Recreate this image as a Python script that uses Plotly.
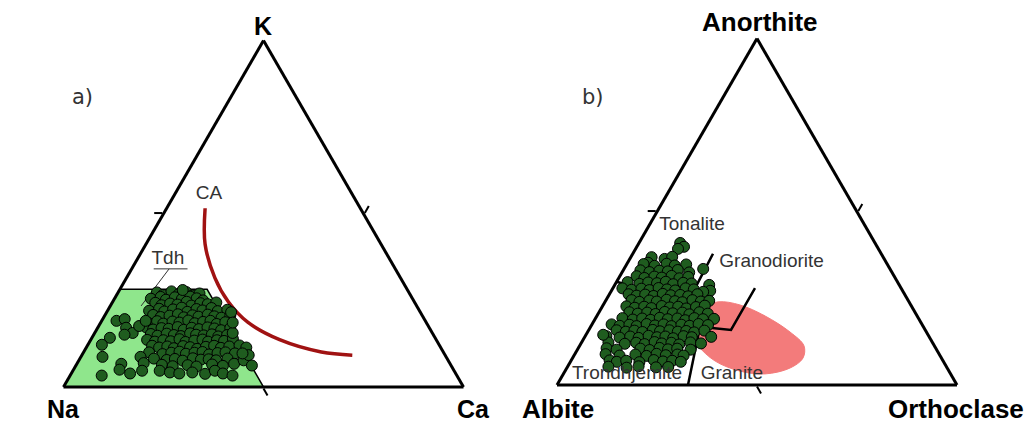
import plotly.graph_objects as go

# ---------------- Panel a: K - Na - Ca (values in %, Na = 100 - K - Ca) ----------------
# Trondhjemite (Tdh) field
tdh_field_k = [0, 28.2, 28.2, 0, 0]
tdh_field_ca = [0, 0, 21.8, 50, 0]

# Calc-alkaline (CA) trend
ca_trend_k = [51.6, 41.2, 31.5, 24.6, 18.7, 13.65, 10.1, 9.2]
ca_trend_ca = [9.6, 14.8, 22.1, 28.9, 36.7, 47.2, 59.4, 67.6]

# Tdh label underline and leader
tdh_underline_k = [34.1, 34.1]
tdh_underline_ca = [5.5, 13.95]
tdh_leader_k = [34.1, 23.4]
tdh_leader_ca = [9.35, 7.7]

# Samples (K %, Ca %)
samples_a = [
    (27.3, 9.7), (26.5, 11.5), (27.6, 13.2), (26.8, 15.4), (27.4, 17.0), (26.4, 19.0), (27.0, 20.5),
    (25.5, 9.1), (26.0, 11.3), (25.2, 13.0), (25.9, 14.9), (25.4, 16.9), (26.1, 18.6), (25.6, 20.5), (25.0, 22.4),
    (24.3, 10.8), (23.6, 12.7), (24.1, 14.6), (23.8, 16.6), (24.6, 18.5), (23.5, 20.2), (24.2, 22.1), (23.9, 24.1),
    (24.4, 26.0),
    (22.0, 10.4), (22.6, 12.6), (21.8, 14.3), (22.4, 16.2), (22.9, 18.1), (21.7, 20.1), (22.5, 22.0), (22.1, 23.7),
    (22.8, 25.6), (21.9, 27.6), (22.3, 29.8),
    (20.8, 12.0), (20.2, 14.2), (20.6, 16.2), (21.0, 18.1), (20.1, 20.0), (20.7, 21.9), (20.3, 23.6), (20.9, 25.6),
    (20.4, 27.5), (20.0, 29.5), (20.6, 31.4),
    (18.5, 11.9), (19.0, 13.9), (18.3, 15.8), (18.9, 17.8), (18.6, 19.7), (19.2, 21.6), (18.4, 23.6), (18.8, 25.5),
    (19.1, 27.2), (18.2, 29.2), (18.7, 31.1),
    (17.2, 12.1), (16.6, 14.1), (17.0, 16.0), (16.8, 17.9), (17.3, 19.9), (16.5, 21.8), (17.1, 23.5), (16.7, 25.5),
    (17.2, 27.4), (16.9, 29.3), (16.4, 31.2), (17.0, 33.2),
    (15.3, 14.2), (14.8, 16.1), (15.4, 18.1), (15.0, 20.1), (14.7, 22.0), (15.5, 23.9), (15.1, 25.6), (14.9, 27.6),
    (15.2, 29.5), (14.6, 31.4), (15.0, 33.4),
    (13.6, 14.1), (13.1, 16.3), (13.5, 18.2), (13.2, 20.2), (13.8, 22.1), (13.0, 24.0), (13.4, 26.0), (13.7, 27.9),
    (13.1, 29.6), (13.5, 31.6), (13.3, 33.5), (13.9, 35.4),
    (11.9, 16.2), (11.4, 18.2), (11.7, 20.1), (11.2, 22.0), (11.8, 24.0), (11.5, 25.9), (11.0, 27.9), (11.6, 29.8),
    (11.9, 31.7), (11.3, 33.7), (11.7, 35.6), (12.0, 38.0), (11.4, 40.0),
    (10.0, 16.4), (9.5, 20.0), (9.9, 22.0), (10.2, 23.9), (9.6, 25.8), (9.9, 27.8), (10.1, 29.7), (9.4, 31.7),
    (9.8, 33.6), (10.0, 35.5), (9.7, 38.0),
    (8.2, 18.5), (7.8, 21.9), (8.1, 23.8), (7.6, 26.0), (8.3, 28.2), (7.9, 30.4), (8.0, 32.3), (7.7, 34.3), (8.2, 36.9),
    (6.4, 21.4), (6.0, 24.3), (6.3, 27.9), (5.9, 30.3), (6.5, 33.9), (6.1, 36.8),
    (19.1, 3.7), (19.6, 5.5), (17.1, 7.1), (15.6, 9.5), (15.1, 7.7), (14.2, 4.5), (12.2, 3.5), (8.7, 5.4),
    (3.3, 7.9), (6.7, 11.1), (5.0, 11.5), (3.9, 14.7), (8.7, 14.9), (6.9, 16.6), (4.7, 17.3), (17.6, 10.1),
    (19.1, 11.0), (4.7, 21.7), (4.2, 24.5), (3.9, 27.0), (4.2, 30.1), (3.8, 33.5), (4.7, 35.5), (3.9, 37.9),
    (3.3, 40.6), (6.7, 39.3), (7.7, 41.2), (9.2, 41.7), (6.2, 44.0), (9.7, 39.9), (15.6, 34.5), (21.6, 31.1),
    (18.6, 33.0), (28.0, 15.8),
]

# ---------------- Panel b: An - Ab - Or (values in %, Ab = 100 - An - Or) ----------------
# Granite field of comparison
granite_field_an = [18.2, 22.0, 24.0, 23.1, 19.9, 15.3, 11.3, 7.8, 4.9, 3.2, 4.0, 6.9, 11.6, 15.0, 18.2]
granite_field_or = [24.2, 24.8, 28.3, 34.2, 42.1, 50.6, 56.1, 57.6, 55.8, 50.4, 43.8, 36.1, 29.2, 25.5, 24.2]

# Classification boundaries
bound_tonalite_an = [29.8, 24.0]
bound_tonalite_or = [0.0, 20.75]
bound_granodiorite_an = [37.9, 24.0, 16.8]
bound_granodiorite_or = [20.05, 20.75, 27.35]
bound_granite_an = [16.8, 0.0]
bound_granite_or = [27.35, 32.75]
bound_gd_granite_an = [16.8, 15.9, 28.0]
bound_gd_granite_or = [27.35, 35.55, 35.5]

# Samples (An %, Or %)
samples_b = [
    (41.0, 10.3), (39.9, 11.8), (39.3, 10.6), (33.5, 19.8), (28.9, 23.6), (27.2, 24.7),
    (36.9, 5.2), (36.4, 8.7), (37.0, 10.3), (35.3, 5.1),
    (34.9, 4.2), (34.4, 7.2), (35.0, 9.9), (34.5, 12.2), (34.8, 14.9),
    (33.1, 4.3), (32.6, 6.8), (33.0, 9.1), (32.8, 11.3), (33.2, 13.6), (32.5, 16.8),
    (31.4, 4.2), (30.9, 6.4), (31.3, 8.7), (31.0, 10.7), (31.5, 12.9), (30.8, 15.2), (31.2, 17.2),
    (29.7, 2.8), (29.2, 6.0), (29.6, 8.0), (29.4, 10.3), (29.8, 12.3), (29.1, 14.5), (29.5, 16.8), (29.3, 19.0),
    (27.9, 2.4), (27.5, 4.9), (27.8, 7.2), (27.4, 9.4), (28.0, 11.4), (27.6, 13.7), (27.3, 15.9), (27.9, 18.2),
    (27.6, 20.4), (26.9, 23.1),
    (26.2, 4.8), (25.8, 7.0), (26.1, 9.0), (25.7, 11.3), (26.3, 13.3), (25.9, 15.5), (26.0, 17.8), (25.6, 20.0),
    (26.2, 22.0),
    (24.5, 6.4), (24.0, 8.6), (24.4, 10.9), (24.1, 12.9), (24.6, 15.1), (24.2, 17.4), (23.9, 19.4), (24.5, 21.6),
    (24.1, 23.9), (24.3, 25.9),
    (22.7, 6.0), (22.3, 8.3), (22.6, 10.5), (22.2, 12.5), (22.8, 14.8), (22.4, 17.0), (22.6, 19.0), (22.1, 21.3),
    (22.5, 23.5), (22.9, 25.5),
    (21.0, 7.6), (20.6, 9.9), (20.9, 12.1), (20.5, 14.4), (21.1, 16.4), (20.7, 18.6), (20.9, 20.9), (20.4, 22.9),
    (21.0, 25.1), (20.6, 27.4),
    (19.3, 6.7), (18.9, 9.5), (19.2, 11.7), (18.8, 14.0), (19.4, 16.0), (19.0, 18.2), (19.2, 20.5), (18.7, 22.7),
    (19.3, 24.7), (19.0, 27.0), (19.1, 29.7),
    (17.5, 4.9), (17.1, 7.1), (17.4, 9.4), (17.0, 11.4), (17.6, 13.6), (17.2, 15.9), (17.5, 17.9), (17.0, 20.1),
    (17.4, 22.4), (17.1, 24.6), (17.6, 26.6), (17.3, 29.1),
    (15.8, 7.0), (15.4, 9.5), (15.7, 11.5), (15.3, 13.7), (15.9, 16.0), (15.5, 18.0), (15.8, 20.2), (15.4, 22.5),
    (15.6, 24.5), (15.2, 26.7), (15.7, 29.0),
    (14.1, 5.3), (13.7, 8.8), (14.0, 11.3), (13.6, 13.6), (14.2, 15.8), (13.8, 18.1), (14.0, 20.1), (13.5, 22.3),
    (14.1, 24.6), (13.8, 26.8), (13.9, 31.6),
    (12.3, 6.7), (11.9, 11.0), (12.2, 13.7), (11.8, 16.0), (12.4, 18.2), (12.0, 20.2), (12.2, 22.5), (11.7, 24.7),
    (12.3, 27.2), (12.0, 30.0),
    (10.6, 7.1), (10.2, 9.8), (10.5, 15.6), (10.1, 18.1), (10.7, 20.3), (10.3, 22.6), (10.5, 24.8), (10.2, 28.3),
    (8.9, 7.7), (8.5, 11.4), (8.8, 15.2), (8.4, 18.2), (9.0, 20.4), (8.6, 22.9), (8.8, 25.7), (8.5, 27.4),
    (7.1, 9.6), (6.7, 11.6), (7.0, 13.8), (6.6, 17.3), (7.2, 20.6), (6.8, 23.1), (7.0, 25.3), (6.7, 27.6),
    (5.3, 10.2), (5.0, 14.9), (5.4, 17.7), (5.1, 22.2), (5.2, 25.2),
    (14.5, 4.3),
]

# Field labels: (text, top %, right %)
labels_a = [("Tdh", 36.8, 7.7), ("CA", 55.5, 8.6)]
labels_b = [("Tonalite", 46.0, 10.75), ("Granodiorite", 35.5, 35.9),
            ("Trondhjemite", 3.2, 15.9), ("Granite", 3.2, 42.1)]

TEXT_FONT = "Liberation Sans, Arial, sans-serif"
POINT_FILL = "#1f5c1f"


def rest(top, right):
    return [100 - t - r for t, r in zip(top, right)]


fig = go.Figure()

# ---- panel a traces ----
fig.add_trace(go.Scatterternary(
    a=tdh_field_k, b=rest(tdh_field_k, tdh_field_ca), c=tdh_field_ca,
    mode="lines", fill="toself", fillcolor="#8fe68c",
    line=dict(color="black", width=1.5), subplot="ternary", hoverinfo="skip"))
fig.add_trace(go.Scatterternary(
    a=ca_trend_k, b=rest(ca_trend_k, ca_trend_ca), c=ca_trend_ca,
    mode="lines", line=dict(color="#a01212", width=3.5, shape="spline"),
    subplot="ternary", hoverinfo="skip"))
for kk, cc in [(tdh_underline_k, tdh_underline_ca), (tdh_leader_k, tdh_leader_ca)]:
    fig.add_trace(go.Scatterternary(
        a=kk, b=rest(kk, cc), c=cc, mode="lines",
        line=dict(color="#333333", width=1), subplot="ternary", hoverinfo="skip"))
ka = [p[0] for p in samples_a]
ca = [p[1] for p in samples_a]
fig.add_trace(go.Scatterternary(
    a=ka, b=rest(ka, ca), c=ca, mode="markers", cliponaxis=False,
    marker=dict(size=11, color=POINT_FILL, line=dict(color="black", width=1)),
    subplot="ternary"))
fig.add_trace(go.Scatterternary(
    a=[l[1] for l in labels_a], b=rest([l[1] for l in labels_a], [l[2] for l in labels_a]),
    c=[l[2] for l in labels_a], text=[l[0] for l in labels_a], mode="text", cliponaxis=False,
    textfont=dict(family=TEXT_FONT, size=19, color="#333333"), subplot="ternary"))

# ---- panel b traces ----
fig.add_trace(go.Scatterternary(
    a=granite_field_an, b=rest(granite_field_an, granite_field_or), c=granite_field_or,
    mode="lines", fill="toself", fillcolor="#f37b7b",
    line=dict(color="#f37b7b", width=1, shape="spline"), subplot="ternary2", hoverinfo="skip"))
for aa, cc in [(bound_tonalite_an, bound_tonalite_or), (bound_granodiorite_an, bound_granodiorite_or),
               (bound_granite_an, bound_granite_or), (bound_gd_granite_an, bound_gd_granite_or)]:
    fig.add_trace(go.Scatterternary(
        a=aa, b=rest(aa, cc), c=cc, mode="lines",
        line=dict(color="black", width=2.5), subplot="ternary2", hoverinfo="skip"))
an = [p[0] for p in samples_b]
orr = [p[1] for p in samples_b]
fig.add_trace(go.Scatterternary(
    a=an, b=rest(an, orr), c=orr, mode="markers", cliponaxis=False,
    marker=dict(size=11, color=POINT_FILL, line=dict(color="black", width=1)),
    subplot="ternary2"))
fig.add_trace(go.Scatterternary(
    a=[l[1] for l in labels_b], b=rest([l[1] for l in labels_b], [l[2] for l in labels_b]),
    c=[l[2] for l in labels_b], text=[l[0] for l in labels_b], mode="text", cliponaxis=False,
    textfont=dict(family=TEXT_FONT, size=19, color="#333333"), subplot="ternary2"))


def tern_axis():
    return dict(title=dict(text=""), min=0, showgrid=False, showline=True,
                linecolor="black", linewidth=3, ticks="outside", tickvals=[50],
                ticklen=8, tickwidth=1.5, tickcolor="black", showticklabels=False)


W, H = 1029, 423
ternary_common = dict(sum=100, bgcolor="white",
                      aaxis=tern_axis(), baxis=tern_axis(), caxis=tern_axis())

fig.update_layout(
    width=W, height=H, autosize=False,
    margin=dict(l=0, r=0, t=0, b=0),
    paper_bgcolor="white", plot_bgcolor="white", showlegend=False,
    ternary=dict(domain=dict(x=[63.5 / W, 463.5 / W], y=[36 / H, (36 + 346.41) / H]), **ternary_common),
    ternary2=dict(domain=dict(x=[557 / W, 957 / W], y=[38 / H, (38 + 346.41) / H]), **ternary_common),
)

annots = [
    ("<b>K</b>", 263, 26, 25), ("<b>Na</b>", 63, 409, 25), ("<b>Ca</b>", 473, 409, 25),
    ("<b>Anorthite</b>", 760, 22, 26), ("<b>Albite</b>", 558, 409, 26), ("<b>Orthoclase</b>", 956, 409, 26),
]
for txt, px, py, fs in annots:
    fig.add_annotation(text=txt, x=px / W, y=1 - py / H, xref="paper", yref="paper",
                       xanchor="center", yanchor="middle", showarrow=False,
                       font=dict(family=TEXT_FONT, size=fs, color="black"))
for txt, px, py in [("a)", 82, 97), ("b)", 593, 97)]:
    fig.add_annotation(text=txt, x=px / W, y=1 - py / H, xref="paper", yref="paper",
                       xanchor="center", yanchor="middle", showarrow=False,
                       font=dict(family="DejaVu Sans", size=21, color="#333333"))

fig.write_html("out.html")
